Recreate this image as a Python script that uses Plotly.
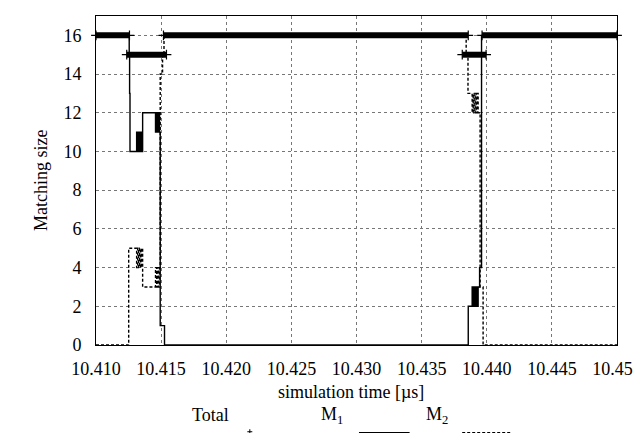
import plotly.graph_objects as go

# ---- data ----
m1_t = [10.4100, 10.41255, 10.41258, 10.41261,
        10.41312, 10.41320, 10.41328, 10.41335, 10.41343, 10.41350,
        10.41358, 10.41457, 10.41465, 10.41472, 10.41480, 10.41488,
        10.41493, 10.41526,
        10.43858, 10.43888, 10.43896, 10.43903, 10.43911, 10.43918, 10.43926, 10.43934,
        10.43945, 10.43960, 10.4500]
m1_v = [16, 15, 13, 10,
        11, 10, 11, 10, 11, 10,
        12, 11, 12, 11, 12, 11,
        1, 0,
        2, 3, 2, 3, 2, 3, 2, 3,
        4, 16, 16]

m2_t = [10.4100, 10.41251,
        10.41312, 10.41320, 10.41328, 10.41335, 10.41343, 10.41350,
        10.41358, 10.41457, 10.41465, 10.41472, 10.41480, 10.41488,
        10.41493, 10.41511, 10.41522,
        10.43842, 10.43856,
        10.43888, 10.43896, 10.43903, 10.43911, 10.43918, 10.43926, 10.43934,
        10.43949, 10.43972, 10.4500]
m2_v = [0, 5,
        4, 5, 4, 5, 4, 5,
        3, 4, 3, 4, 3, 4,
        14, 15, 16,
        15, 13,
        12, 13, 12, 13, 12, 13, 12,
        3, 0, 0]

total_t = [10.4100, 10.41257, None,
           10.41236, 10.41541, None,
           10.41518, 10.43858, None,
           10.43812, 10.43995, None,
           10.43964, 10.4500]
total_v = [16, 16, None,
           15, 15, None,
           16, 16, None,
           15, 15, None,
           16, 16]

x_ticks = [10.410, 10.415, 10.420, 10.425, 10.430, 10.435, 10.440, 10.445, 10.450]
y_ticks = [0, 2, 4, 6, 8, 10, 12, 14, 16]

FONT = "Liberation Serif"
FS = 18
W, H = 641, 433
L, R, T, B = 88, 28, 7, 96
PW, PH = W - L - R, H - T - B

def px(x):
    return (x - L) / PW

def py(y):
    return (H - B - y) / PH

fig = go.Figure()

fig.add_trace(go.Scatter(x=total_t, y=total_v, mode="lines+markers",
                         line=dict(color="black", width=6),
                         marker=dict(symbol="cross-thin", size=7, line=dict(color="black", width=1.2)),
                         cliponaxis=False, showlegend=False, connectgaps=False))
fig.add_trace(go.Scatter(x=m1_t, y=m1_v, mode="lines", line_shape="hv",
                         line=dict(color="black", width=1.4), showlegend=False))
fig.add_trace(go.Scatter(x=m2_t, y=m2_v, mode="lines", line_shape="hv",
                         line=dict(color="black", width=1.4, dash="3px,2px"), showlegend=False))

axis_common = dict(showline=True, linecolor="black", linewidth=1, mirror=True,
                   showgrid=True, gridcolor="#777777", griddash="dot", gridwidth=1,
                   zeroline=False, ticks="", tickfont=dict(family=FONT, size=FS, color="black"))

fig.update_xaxes(range=[10.41, 10.45], tickvals=x_ticks, ticklabelstandoff=7,
                 ticktext=[f"{v:.3f}" for v in x_ticks], **axis_common)
fig.update_yaxes(range=[0, 17], tickvals=y_ticks, ticklabelstandoff=10,
                 ticktext=[str(v) for v in y_ticks], **axis_common)

tf = dict(family=FONT, size=FS, color="black")
ann = []
ann.append(dict(text="Matching size", x=px(20), y=0.5, xref="paper", yref="paper",
                textangle=-90, showarrow=False, font=tf))
ann.append(dict(text="simulation time [µs]", x=px(345), y=py(396), xref="paper", yref="paper",
                showarrow=False, font=tf))
# legend (gnuplot style: label then sample)
leg_y = 421
ann.append(dict(text="Total", x=px(183), y=py(leg_y - 2), xref="paper", yref="paper",
                showarrow=False, font=tf))
ann.append(dict(text="M<sub>1</sub>", x=px(326), y=py(leg_y), xref="paper", yref="paper",
                showarrow=False, font=tf))
ann.append(dict(text="M<sub>2</sub>", x=px(432), y=py(leg_y), xref="paper", yref="paper",
                showarrow=False, font=tf))
fig.update_layout(annotations=ann)

sy = leg_y + 4
shapes = [
    dict(type="line", xref="paper", yref="paper", x0=px(353), x1=px(404), y0=py(sy), y1=py(sy),
         line=dict(color="black", width=1.4)),
    dict(type="line", xref="paper", yref="paper", x0=px(457), x1=px(506), y0=py(sy), y1=py(sy),
         line=dict(color="black", width=1.4, dash="3px,2px")),
    dict(type="line", xref="paper", yref="paper", x0=px(240.5), x1=px(245.5), y0=py(sy - 1), y1=py(sy - 1),
         line=dict(color="black", width=1)),
    dict(type="line", xref="paper", yref="paper", x0=px(243), x1=px(243), y0=py(sy - 3.5), y1=py(sy + 1.5),
         line=dict(color="black", width=1)),
]
fig.update_layout(shapes=shapes)

fig.update_layout(width=W, height=H, margin=dict(l=L, r=R, t=T, b=B),
                  paper_bgcolor="white", plot_bgcolor="white", showlegend=False)

fig.write_html("out.html")
